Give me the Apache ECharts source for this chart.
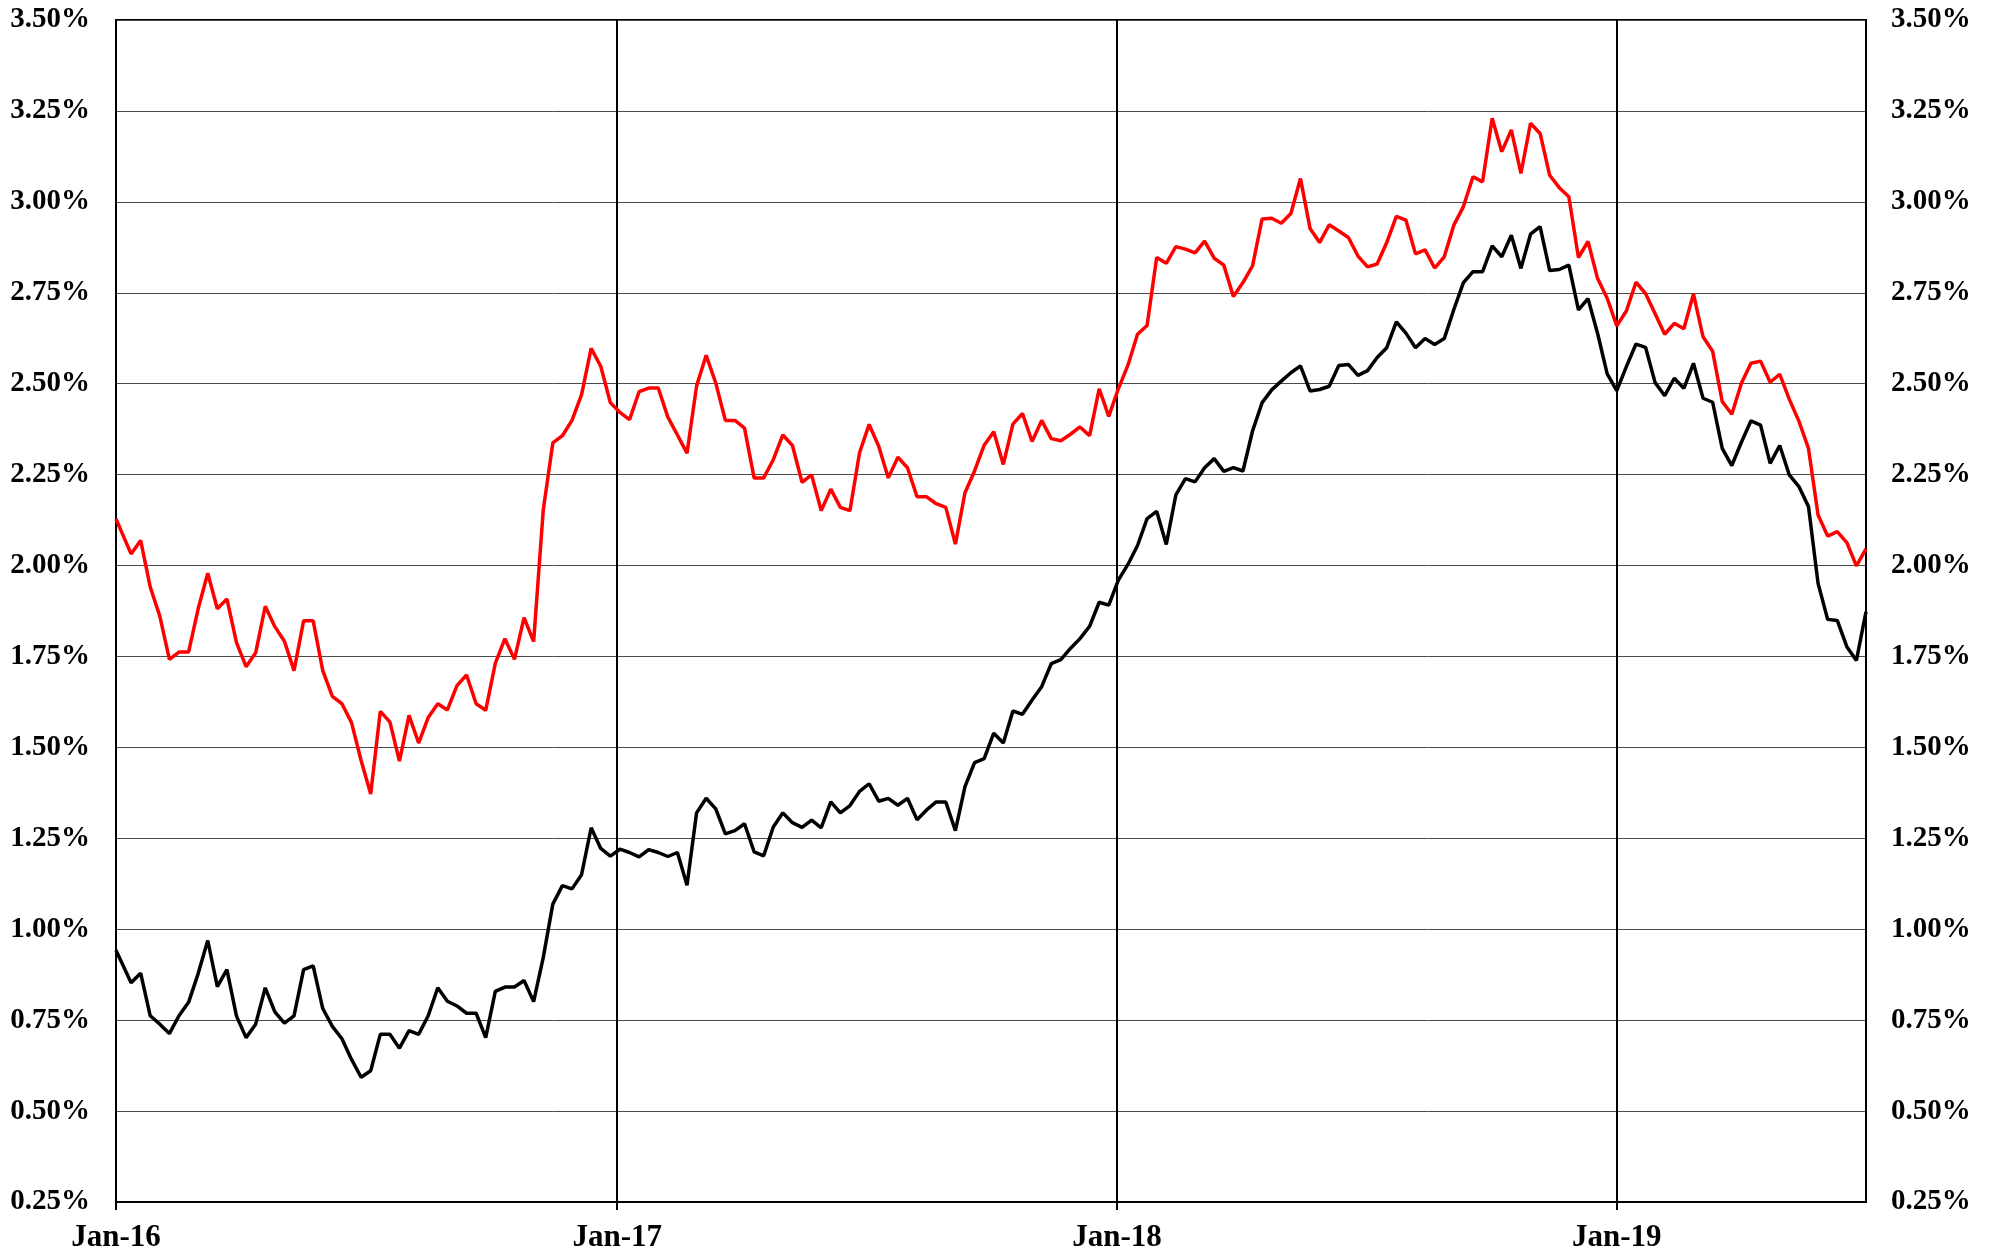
<!DOCTYPE html>
<html>
<head>
<meta charset="utf-8">
<script src="https://cdn.jsdelivr.net/npm/echarts@6/dist/echarts.min.js"></script>
<style>
  html, body { margin: 0; padding: 0; background: #fff; }
  #chart { width: 1996px; height: 1259px; }
</style>
</head>
<body>
<div id="chart"></div>
<script>
// Weekly observations (Tuesdays), first value on 2016-01-01, then from 2016-01-12 to 2019-07-02
const firstDate = '2016-01-01';
const weeklyStart = '2016-01-12';
const yearTicks = ['2016-01-01', '2017-01-01', '2018-01-01', '2019-01-01'];
const yTickLabels = ['0.25%','0.50%','0.75%','1.00%','1.25%','1.50%','1.75%','2.00%','2.25%','2.50%','2.75%','3.00%','3.25%','3.50%'];

// Red series (10-year yield)
const red2016 = [2.128, 2.032, 2.069, 1.941, 1.861, 1.742, 1.762, 1.762, 1.881, 1.979, 1.881, 1.908, 1.788, 1.722, 1.760, 1.888, 1.832, 1.792, 1.711, 1.848, 1.848, 1.711, 1.640, 1.620, 1.568, 1.464, 1.372, 1.599, 1.570, 1.462, 1.588, 1.512, 1.582, 1.620, 1.603, 1.670, 1.699, 1.620, 1.602, 1.731, 1.799, 1.742, 1.857, 1.791, 2.152, 2.337, 2.357, 2.399, 2.470, 2.597, 2.548, 2.448];
const red2017 = [2.421, 2.401, 2.478, 2.488, 2.488, 2.408, 2.359, 2.309, 2.494, 2.578, 2.502, 2.399, 2.399, 2.378, 2.241, 2.241, 2.291, 2.359, 2.330, 2.229, 2.249, 2.151, 2.210, 2.160, 2.151, 2.310, 2.388, 2.328, 2.241, 2.298, 2.269, 2.189, 2.189, 2.170, 2.160, 2.059, 2.200, 2.260, 2.331, 2.368, 2.278, 2.389, 2.418, 2.341, 2.399, 2.349, 2.343, 2.361, 2.381, 2.357, 2.486, 2.410];
const red2018 = [2.486, 2.551, 2.636, 2.660, 2.847, 2.831, 2.877, 2.870, 2.860, 2.892, 2.845, 2.826, 2.740, 2.778, 2.824, 2.953, 2.955, 2.941, 2.968, 3.064, 2.927, 2.888, 2.937, 2.920, 2.902, 2.851, 2.821, 2.829, 2.888, 2.960, 2.950, 2.857, 2.868, 2.818, 2.849, 2.936, 2.987, 3.069, 3.055, 3.230, 3.138, 3.198, 3.078, 3.216, 3.188, 3.073, 3.039, 3.014, 2.847, 2.891, 2.789, 2.735];
const red2019 = [2.659, 2.700, 2.779, 2.748, 2.692, 2.636, 2.666, 2.651, 2.747, 2.629, 2.589, 2.451, 2.416, 2.501, 2.556, 2.562, 2.504, 2.526, 2.457, 2.397, 2.322, 2.139, 2.081, 2.093, 2.063, 1.999, 2.046];

// Black series (2-year yield)
const black2016 = [0.942, 0.853, 0.879, 0.762, 0.739, 0.713, 0.762, 0.799, 0.878, 0.969, 0.842, 0.889, 0.761, 0.702, 0.739, 0.839, 0.773, 0.742, 0.762, 0.889, 0.899, 0.782, 0.733, 0.699, 0.642, 0.593, 0.611, 0.711, 0.711, 0.673, 0.721, 0.711, 0.762, 0.839, 0.802, 0.789, 0.769, 0.769, 0.702, 0.829, 0.841, 0.841, 0.859, 0.801, 0.922, 1.069, 1.120, 1.111, 1.150, 1.279, 1.222, 1.201];
const black2017 = [1.220, 1.211, 1.199, 1.219, 1.211, 1.200, 1.211, 1.121, 1.320, 1.360, 1.331, 1.262, 1.271, 1.290, 1.213, 1.202, 1.281, 1.320, 1.293, 1.280, 1.300, 1.279, 1.350, 1.320, 1.340, 1.379, 1.400, 1.352, 1.360, 1.341, 1.360, 1.301, 1.328, 1.350, 1.350, 1.271, 1.392, 1.458, 1.469, 1.539, 1.512, 1.600, 1.591, 1.630, 1.667, 1.730, 1.741, 1.772, 1.799, 1.833, 1.899, 1.891];
const black2018 = [1.960, 2.003, 2.055, 2.129, 2.149, 2.058, 2.194, 2.239, 2.230, 2.269, 2.294, 2.259, 2.269, 2.260, 2.370, 2.448, 2.483, 2.507, 2.530, 2.549, 2.480, 2.484, 2.493, 2.550, 2.553, 2.523, 2.536, 2.572, 2.599, 2.670, 2.639, 2.599, 2.624, 2.608, 2.624, 2.704, 2.778, 2.808, 2.808, 2.879, 2.849, 2.908, 2.817, 2.911, 2.932, 2.811, 2.814, 2.826, 2.703, 2.734, 2.638, 2.527];
const black2019 = [2.481, 2.547, 2.609, 2.600, 2.503, 2.467, 2.515, 2.487, 2.556, 2.460, 2.449, 2.322, 2.275, 2.339, 2.398, 2.386, 2.281, 2.330, 2.249, 2.217, 2.162, 1.951, 1.852, 1.849, 1.777, 1.739, 1.873];

const DAY = 86400000;
const t0 = Date.parse(firstDate + 'T00:00:00Z');
function dayOf(s) { return Math.round((Date.parse(s + 'T00:00:00Z') - t0) / DAY); }
const redValues = red2016.concat(red2017, red2018, red2019);
const blackValues = black2016.concat(black2017, black2018, black2019);
const startW = dayOf(weeklyStart);
const days = redValues.map((_, i) => i === 0 ? 0 : startW + 7 * (i - 1));
const lastDay = days[days.length - 1];
const tickDays = yearTicks.map(dayOf);

const FONT = '"Liberation Serif", "Times New Roman", serif';
const chart = echarts.init(document.getElementById('chart'), null, { renderer: 'canvas' });

const yAxisBase = {
  type: 'value', min: 0.25, max: 3.5, interval: 0.25,
  axisLine: { show: true, lineStyle: { color: '#000', width: 2 } },
  axisTick: { show: false },
  axisLabel: {
    fontFamily: FONT, fontWeight: 'bold', fontSize: 29, color: '#000',
    formatter: v => yTickLabels[Math.round((v - 0.25) / 0.25)]
  }
};

chart.setOption({
  animation: false,
  backgroundColor: '#fff',
  grid: { left: 116, right: 130, top: 20, bottom: 57, show: true, borderColor: '#000', borderWidth: 2, backgroundColor: 'transparent' },
  xAxis: {
    type: 'value', min: 0, max: lastDay, interval: 365.25,
    axisLine: { show: true, lineStyle: { color: '#000', width: 2 } },
    axisTick: { show: true, length: 8, lineStyle: { color: '#000', width: 2 }, customValues: tickDays },
    axisLabel: {
      customValues: tickDays,
      margin: 20, fontFamily: FONT, fontWeight: 'bold', fontSize: 31, color: '#000',
      formatter: v => {
        const i = tickDays.indexOf(Math.round(v));
        if (i < 0) return '';
        return 'Jan-' + yearTicks[i].slice(2, 4);
      }
    },
    splitLine: { show: true, lineStyle: { color: '#000', width: 2 } }
  },
  yAxis: [
    Object.assign({}, yAxisBase, {
      position: 'left',
      axisLabel: Object.assign({}, yAxisBase.axisLabel, { margin: 26 }),
      splitLine: { show: true, lineStyle: { color: '#4a4a4a', width: 1 } }
    }),
    Object.assign({}, yAxisBase, {
      position: 'right',
      axisLabel: Object.assign({}, yAxisBase.axisLabel, { margin: 25 }),
      splitLine: { show: false }
    })
  ],
  series: [
    {
      name: '2-Year', type: 'line', yAxisIndex: 0, showSymbol: false, clip: true,
      data: days.map((d, i) => [d, blackValues[i]]),
      lineStyle: { color: '#000', width: 3.5 }, itemStyle: { color: '#000' }
    },
    {
      name: '10-Year', type: 'line', yAxisIndex: 0, showSymbol: false, clip: true,
      data: days.map((d, i) => [d, redValues[i]]),
      lineStyle: { color: '#ff0000', width: 3.5 }, itemStyle: { color: '#ff0000' }
    }
  ]
});
</script>
</body>
</html>
